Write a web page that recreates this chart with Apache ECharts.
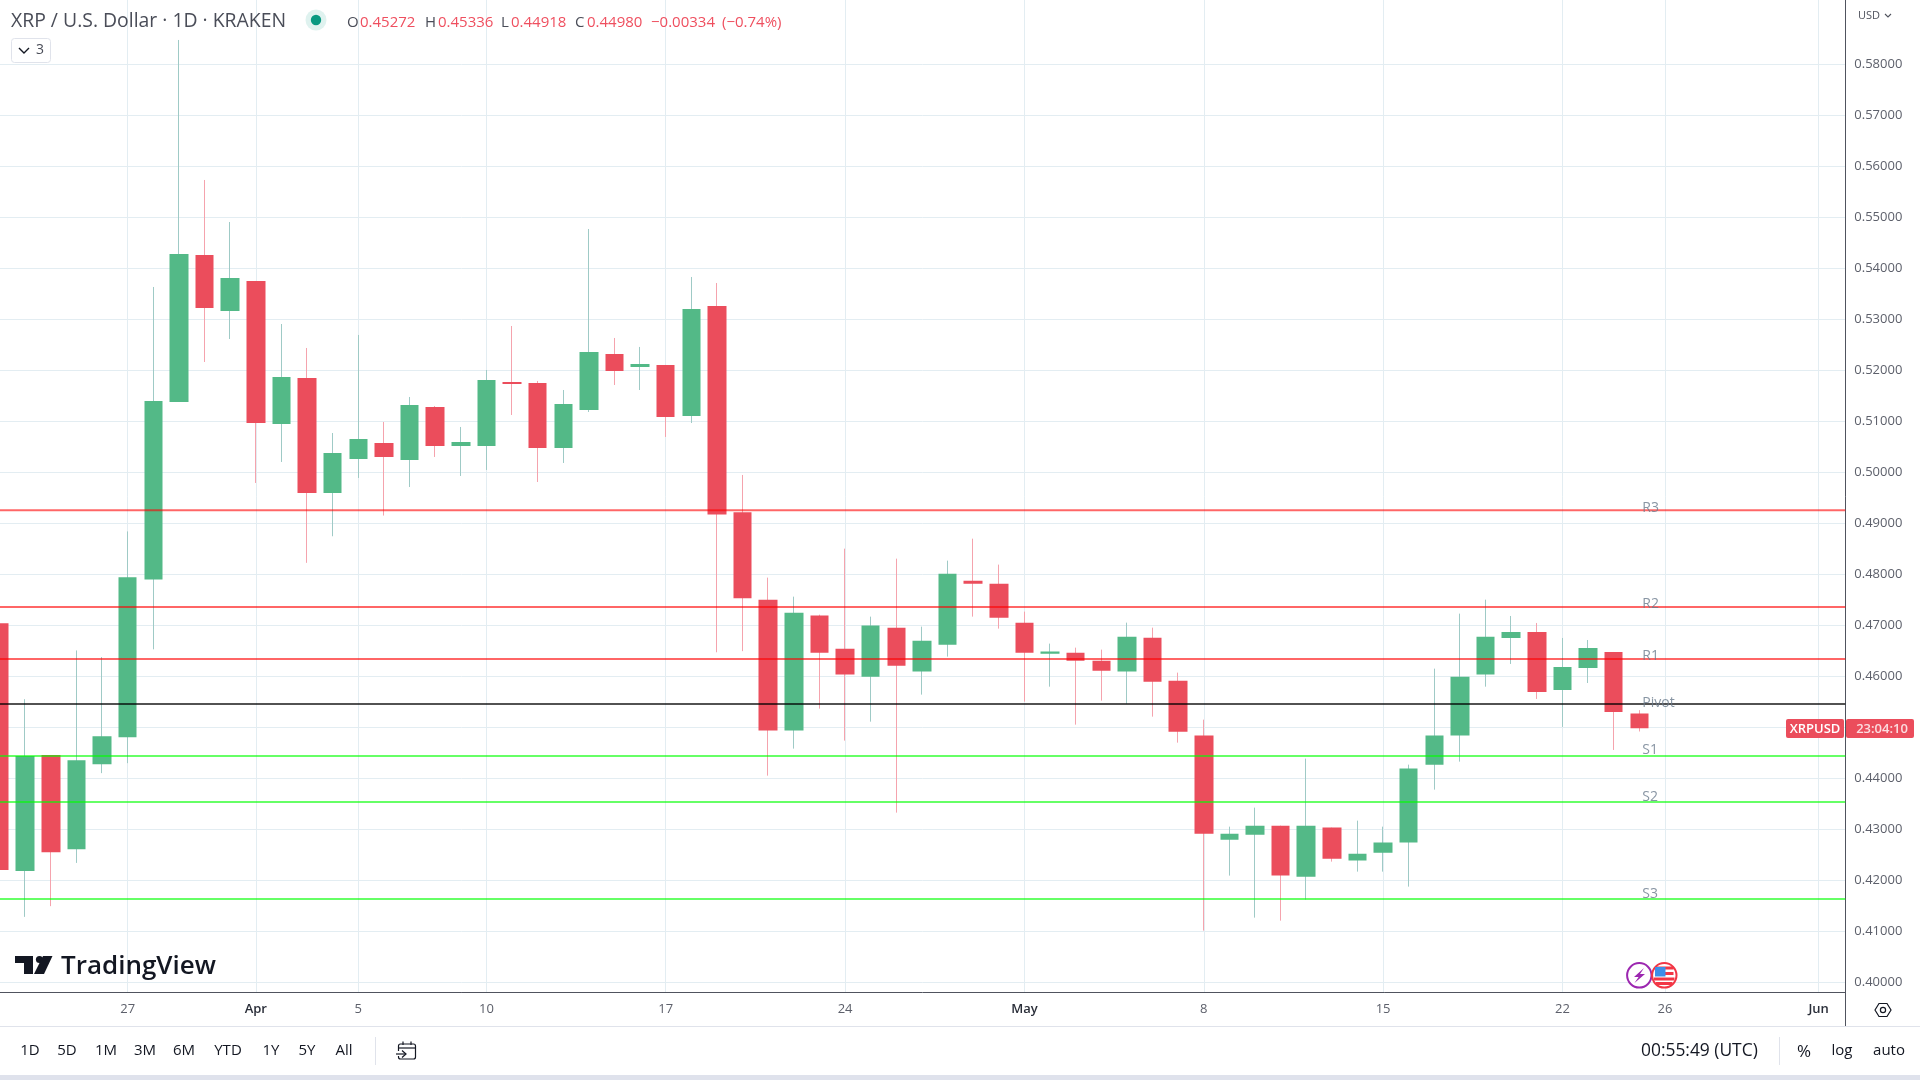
<!DOCTYPE html>
<html>
<head>
<meta charset="utf-8">
<title>XRP / U.S. Dollar</title>
<script src="https://cdn.jsdelivr.net/npm/echarts@6/dist/echarts.min.js"></script>
<style>
    html, body { margin: 0; padding: 0; background: #fff; }
    #chart { width: 1920px; height: 1080px; }
</style>
</head>
<body>
<div id="chart"></div>
<script>
// daily candles, first one is Mar 22 (position in the array = day number)
var opens = [0.4704, 0.42181, 0.44457, 0.42609, 0.44275, 0.44804, 0.47899, 0.51379, 0.54261, 0.53163,
    0.53752, 0.50948, 0.5185, 0.49595, 0.50261, 0.50575, 0.50242, 0.51281, 0.50516, 0.50516,
    0.51771, 0.51752, 0.50477, 0.51222, 0.5232, 0.52065, 0.52105, 0.51105, 0.53261, 0.49217,
    0.47503, 0.44935, 0.4719, 0.46542, 0.45993, 0.46954, 0.46092, 0.46621, 0.47876, 0.47817,
    0.47052, 0.46444, 0.46464, 0.46307, 0.46092, 0.46758, 0.45915, 0.44837, 0.42797, 0.42895,
    0.43072, 0.42072, 0.43033, 0.42386, 0.42542, 0.42739, 0.44268, 0.44837, 0.46033, 0.46752,
    0.46869, 0.45732, 0.46163, 0.46477, 0.45272];
var closes = [0.422, 0.44435, 0.42551, 0.44355, 0.44826, 0.47942, 0.51399, 0.54281, 0.53222, 0.5381,
    0.50967, 0.51869, 0.49595, 0.50379, 0.50654, 0.50301, 0.5132, 0.50516, 0.50595, 0.5181,
    0.51732, 0.50477, 0.5134, 0.52359, 0.51987, 0.52124, 0.51085, 0.53203, 0.49174, 0.47529,
    0.44935, 0.47248, 0.46464, 0.46033, 0.46994, 0.46209, 0.46699, 0.48013, 0.47817, 0.4715,
    0.46464, 0.46484, 0.46307, 0.46111, 0.46778, 0.45895, 0.44915, 0.42915, 0.42915, 0.43072,
    0.42092, 0.43072, 0.42425, 0.42523, 0.42739, 0.4419, 0.44837, 0.45993, 0.46778, 0.46869,
    0.45693, 0.46183, 0.46556, 0.45301, 0.4498];
var lows = [0.422, 0.41283, 0.41493, 0.42341, 0.44101, 0.44297, 0.46529, 0.51379, 0.52163, 0.52614,
    0.49791, 0.50203, 0.48225, 0.48746, 0.49889, 0.49152, 0.49712, 0.50301, 0.49928, 0.50046,
    0.51124, 0.4981, 0.50183, 0.51183, 0.51712, 0.51614, 0.50693, 0.50967, 0.46471, 0.46493,
    0.44052, 0.44582, 0.45366, 0.44739, 0.45111, 0.43327, 0.45641, 0.46386, 0.4717, 0.46935,
    0.45503, 0.45797, 0.45052, 0.45523, 0.45464, 0.45209, 0.44699, 0.41013, 0.42092, 0.41268,
    0.41209, 0.41621, 0.42366, 0.4217, 0.4217, 0.41876, 0.43778, 0.44327, 0.45797, 0.46242,
    0.45556, 0.45007, 0.45869, 0.44556, 0.44918];
var highs = [0.4704, 0.45551, 0.44457, 0.46507, 0.46377, 0.48841, 0.53634, 0.58477, 0.55732, 0.54908,
    0.53752, 0.52908, 0.52438, 0.50771, 0.52693, 0.50987, 0.51477, 0.513, 0.50889, 0.52006,
    0.52869, 0.51791, 0.51614, 0.54771, 0.52634, 0.52458, 0.52105, 0.5383, 0.53712, 0.49948,
    0.47935, 0.47562, 0.47209, 0.48503, 0.4717, 0.48307, 0.46974, 0.48268, 0.48699, 0.4819,
    0.47268, 0.46641, 0.46562, 0.46523, 0.47052, 0.46954, 0.46072, 0.4515, 0.43052, 0.43425,
    0.43072, 0.44386, 0.43033, 0.4317, 0.43052, 0.44268, 0.4615, 0.47229, 0.47503, 0.47183,
    0.47046, 0.46752, 0.46712, 0.46477, 0.45336];

// pivot levels
var levelNames = ['R3', 'R2', 'R1', 'Pivot', 'S1', 'S2', 'S3'];
var levelValues = [0.49254, 0.47357, 0.4634, 0.45458, 0.44438, 0.43536, 0.41634];
var levelColors = ['rgba(255,0,0,.6)', 'rgba(255,0,0,.6)', 'rgba(255,0,0,.6)', 'rgba(0,0,0,.68)',
    'rgba(0,255,0,.6)', 'rgba(0,255,0,.6)', 'rgba(0,255,0,.6)'];

// axis ticks
var timeTickDays = [5, 10, 14, 19, 26, 33, 40, 47, 54, 61, 65, 71];
var timeTickLabels = ['27', 'Apr', '5', '10', '17', '24', 'May', '8', '15', '22', '26', 'Jun'];
var priceTicks = [0.40, 0.41, 0.42, 0.43, 0.44, 0.45, 0.46, 0.47, 0.48, 0.49,
    0.50, 0.51, 0.52, 0.53, 0.54, 0.55, 0.56, 0.57, 0.58];

var rangeButtons = ['1D', '5D', '1M', '3M', '6M', 'YTD', '1Y', '5Y', 'All'];
var rangeButtonX = [30, 67, 106, 145, 184, 228, 271, 307, 344];

var FONT = '"Open Sans", sans-serif';
var UP = '#53b987', DOWN = '#eb4d5c';
var GRID_COLOR = '#e3edf2', AXIS_COLOR = '#50535e', TEXT_DARK = '#131722';

function buildCandles() {
    return opens.map(function (o, i) {
        return [i, o, closes[i], lows[i], highs[i]];
    });
}

function txt(x, y, text, size, color, align, weight) {
    return {
        type: 'text', x: x, y: y, silent: true,
        style: {
            text: text, fontSize: size, fontFamily: FONT, fill: color,
            align: align || 'left', verticalAlign: 'middle', fontWeight: weight || 'normal'
        }
    };
}

function line(x1, y1, x2, y2, color, width) {
    return {
        type: 'line', silent: true,
        shape: { x1: x1, y1: y1, x2: x2, y2: y2 },
        style: { stroke: color, lineWidth: width || 1, fill: 'none' }
    };
}

function rect(x, y, w, h, fill, r) {
    return {
        type: 'rect', silent: true,
        shape: { x: x, y: y, width: w, height: h, r: r || 0 },
        style: { fill: fill }
    };
}

function poly(points, fill) {
    return { type: 'polygon', silent: true, shape: { points: points }, style: { fill: fill } };
}

function circle(cx, cy, r, fill, stroke, width) {
    return {
        type: 'circle', silent: true,
        shape: { cx: cx, cy: cy, r: r },
        style: { fill: fill, stroke: stroke || 'none', lineWidth: width || 0 }
    };
}

// header, toolbar, logo and the rest of the page furniture
function buildGraphic() {
    var g = [];

    g.push(txt(11, 21, 'XRP / U.S. Dollar · 1D · KRAKEN', 19.4, '#4a4d58'));
    g.push(circle(316, 20, 10.5, 'rgba(8,153,129,.13)'));
    g.push(circle(316, 20, 5.2, '#089981'));

    [[347, 'O'], [425, 'H'], [501, 'L'], [575, 'C']].forEach(function (p) {
        g.push(txt(p[0], 23, p[1], 15, '#4a4d58'));
    });
    [[360, '0.45272'], [438, '0.45336'], [511, '0.44918'], [587, '0.44980'], [651, '−0.00334'], [722, '(−0.74%)']].forEach(function (p) {
        g.push(txt(p[0], 23, p[1], 15, '#ef4f5f'));
    });

    // collapsed indicators button
    g.push({
        type: 'rect', silent: true,
        shape: { x: 11.5, y: 38.5, width: 39, height: 24, r: 3 },
        style: { fill: '#fff', stroke: '#e0e3eb', lineWidth: 1 }
    });
    g.push({ type: 'polyline', silent: true, shape: { points: [[19, 48], [24, 53], [29, 48]] }, style: { stroke: TEXT_DARK, lineWidth: 1.4, fill: 'none' } });
    g.push(txt(36, 50, '3', 14, '#4a4d58'));

    // logo
    g.push(poly([[15, 956], [33, 956], [33, 974], [24, 974], [24, 963], [15, 963]], TEXT_DARK));
    g.push(circle(39.5, 959.5, 3.6, TEXT_DARK));
    g.push(poly([[43, 956], [52.5, 956], [44, 974], [34, 974]], TEXT_DARK));
    g.push(txt(61, 967, 'TradingView', 26, TEXT_DARK, 'left', 600));

    // price axis top and bottom
    g.push(txt(1858, 16, 'USD', 11, AXIS_COLOR));
    g.push({ type: 'polyline', silent: true, shape: { points: [[1885, 14], [1888, 17], [1891, 14]] }, style: { stroke: AXIS_COLOR, lineWidth: 1.1, fill: 'none' } });
    g.push(line(1845.5, 992, 1845.5, 1026, AXIS_COLOR));

    // current price tags
    g.push(rect(1786, 719, 58, 19, DOWN, 2));
    g.push(txt(1815, 729, 'XRPUSD', 13, '#fff', 'center', 600));
    g.push(rect(1846, 719, 68, 19, DOWN, 2));
    g.push(txt(1882, 729, '23:04:10', 13, '#fbdde0', 'center', 600));

    // economic events
    g.push(circle(1639.3, 975.3, 12.2, '#fff', '#9c27b0', 2));
    g.push(poly([[1644, 968], [1634, 977], [1638.6, 977], [1634.5, 983], [1645, 974], [1640, 974]], '#9c27b0'));
    g.push(circle(1664.3, 975.3, 12.2, '#fff', '#f23645', 2));
    g.push(rect(1655, 966.5, 18.5, 3, '#f23645'));
    g.push(rect(1655, 972, 18.5, 3, '#f23645'));
    g.push(rect(1654, 977.5, 20.5, 3, '#f23645'));
    g.push(rect(1656, 982, 16.5, 3, '#f23645'));
    g.push(rect(1655, 967, 10.5, 9.5, '#3d8ee8'));

    // settings
    g.push({
        type: 'polygon', silent: true,
        shape: { points: [[1875, 1010], [1879, 1003.5], [1887, 1003.5], [1891, 1010], [1887, 1016.5], [1879, 1016.5]] },
        style: { fill: 'none', stroke: TEXT_DARK, lineWidth: 1.2 }
    });
    g.push(circle(1883, 1010, 2.6, 'none', TEXT_DARK, 1.2));

    // bottom toolbar
    g.push(line(0, 1026.5, 1920, 1026.5, '#e0e3eb'));
    rangeButtons.forEach(function (b, i) {
        g.push(txt(rangeButtonX[i], 1051, b, 15, TEXT_DARK, 'center'));
    });
    g.push(line(375.5, 1037, 375.5, 1065, '#e0e3eb'));
    g.push({
        type: 'rect', silent: true,
        shape: { x: 398.5, y: 1044, width: 17, height: 15, r: 2 },
        style: { fill: 'none', stroke: TEXT_DARK, lineWidth: 1.2 }
    });
    g.push(rect(396, 1051, 8, 5, '#fff'));
    g.push(line(398.5, 1048, 415.5, 1048, TEXT_DARK, 1.2));
    g.push(line(403, 1041.5, 403, 1045, TEXT_DARK, 1.2));
    g.push(line(411, 1041.5, 411, 1045, TEXT_DARK, 1.2));
    g.push(line(396, 1054, 406, 1054, TEXT_DARK, 1.2));
    g.push({ type: 'polyline', silent: true, shape: { points: [[402, 1050.5], [406, 1054], [402, 1057.5]] }, style: { stroke: TEXT_DARK, lineWidth: 1.2, fill: 'none' } });

    g.push(txt(1641, 1051, '00:55:49 (UTC)', 17.4, TEXT_DARK));
    g.push(line(1779.5, 1037, 1779.5, 1065, '#e0e3eb'));
    g.push(txt(1804, 1052, '%', 17, TEXT_DARK, 'center'));
    g.push(txt(1842, 1051, 'log', 15, TEXT_DARK, 'center'));
    g.push(txt(1889, 1051, 'auto', 15, TEXT_DARK, 'center'));
    g.push(rect(0, 1075, 1920, 5, '#dfe2ec'));

    // keep all of it above the axis labels, the price tags cover 0.45000
    g.forEach(function (el) { el.z = 100; });
    return g;
}

var chart = echarts.init(document.getElementById('chart'));
var candles = buildCandles();
var xMin = 0.0156, xMax = 72.04;

var series = [
    {
        // wicks only: a candlestick collapsed to one pixel
        name: 'wick', type: 'candlestick', data: candles, barWidth: 1, z: 2,
        encode: { x: 0, y: [1, 2, 3, 4] },
        itemStyle: { color: '#9fcac6', color0: '#f5a3ad', borderColor: '#9fcac6', borderColor0: '#f5a3ad', borderWidth: 1 }
    },
    {
        name: 'XRPUSD', type: 'candlestick', data: candles, barWidth: 19, z: 3,
        encode: { x: 0, y: [1, 2, 3, 4] },
        itemStyle: { color: UP, color0: DOWN, borderColor: UP, borderColor0: DOWN, borderWidth: 0 }
    }
];

levelNames.forEach(function (name, i) {
    series.push({
        name: name, type: 'line', z: 4, showSymbol: false, symbol: 'none',
        data: [[xMin, levelValues[i]], [xMax, levelValues[i]]],
        lineStyle: { color: levelColors[i], width: 2 }
    });
});

// label lift differs per level in the source picture
var levelLabelLift = [-2, -3, -3, -1, -6, -5, -5];

series.push({
    name: 'levelNames', type: 'scatter', z: 5, symbolSize: 1,
    itemStyle: { color: 'transparent' },
    data: levelNames.map(function (name, i) {
        return { name: name, value: [64.1, levelValues[i]], label: { offset: [0, levelLabelLift[i]] } };
    }),
    label: {
        show: true, position: 'right', distance: 0,
        formatter: '{b}', fontFamily: FONT, fontSize: 14, color: '#6a7a8c'
    }
});

var option = {
    animation: false,
    backgroundColor: '#fff',
    tooltip: { show: false },
    grid: { left: 0, top: 0, width: 1845.3, height: 992.4, containLabel: false },
    xAxis: {
        type: 'value', min: xMin, max: xMax, scale: true,
        axisLine: { show: true, onZero: false, lineStyle: { color: AXIS_COLOR, width: 1 } },
        axisTick: { show: false, customValues: timeTickDays },
        splitLine: { show: true, lineStyle: { color: GRID_COLOR, width: 1 } },
        axisLabel: {
            customValues: timeTickDays, margin: 10, fontFamily: FONT, fontSize: 13, color: '#5d606b',
            hideOverlap: false,
            formatter: function (v) {
                var t = timeTickLabels[timeTickDays.indexOf(v)];
                return isNaN(Number(t)) ? '{m|' + t + '}' : t;
            },
            rich: { m: { fontFamily: FONT, fontSize: 13, color: '#2a2e39', fontWeight: 600 } }
        }
    },
    yAxis: {
        type: 'value', position: 'right', min: 0.39802, max: 0.59261, scale: true,
        axisLine: { show: true, onZero: false, lineStyle: { color: AXIS_COLOR, width: 1 } },
        axisTick: { show: false, customValues: priceTicks },
        splitLine: { show: true, lineStyle: { color: GRID_COLOR, width: 1 } },
        axisLabel: {
            customValues: priceTicks, margin: 9, fontFamily: FONT, fontSize: 13, color: '#5d606b',
            showMinLabel: true, showMaxLabel: true, hideOverlap: false,
            formatter: function (v) { return v.toFixed(5); }
        }
    },
    series: series,
    graphic: { elements: buildGraphic() }
};

chart.setOption(option);
</script>
</body>
</html>
